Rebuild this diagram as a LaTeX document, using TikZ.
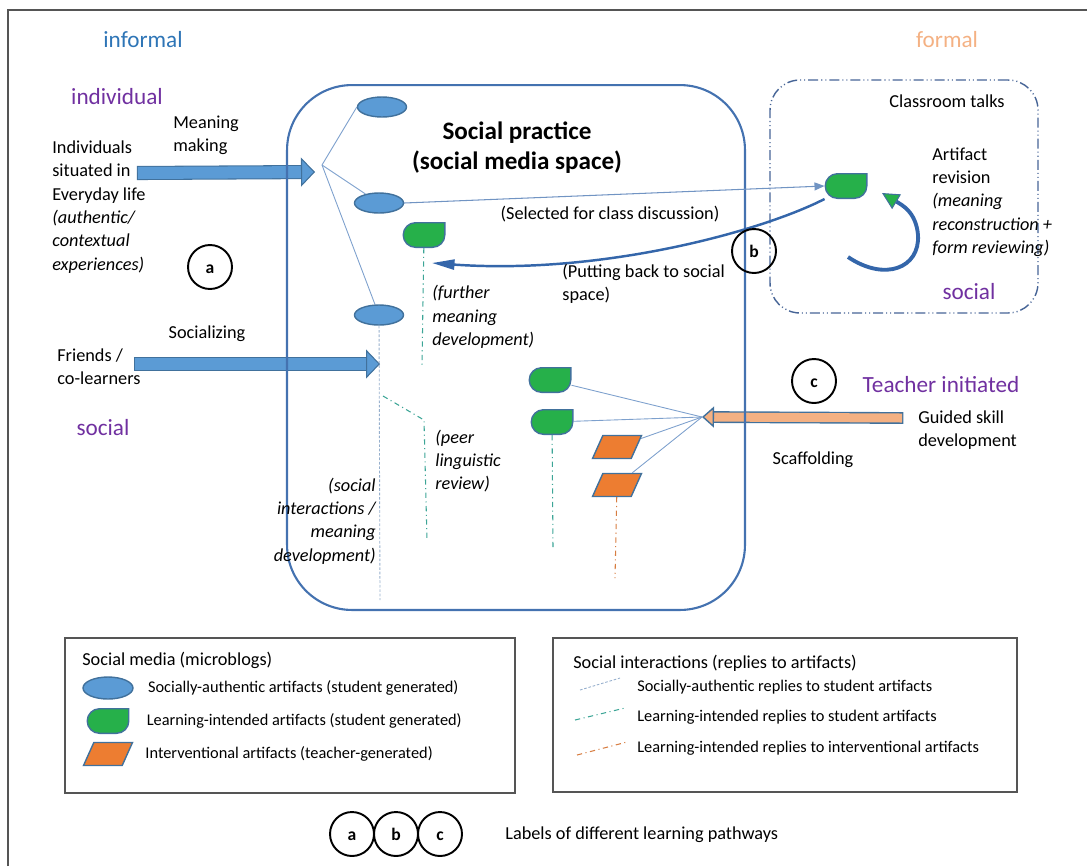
\documentclass[tikz,border=0pt]{standalone}
\usepackage{fontspec}
\setmainfont{Carlito}
\usepackage{tikz}
\usetikzlibrary{shapes.geometric,arrows.meta,positioning}

\definecolor{artblue}{RGB}{91,155,213}
\definecolor{edgeblue}{RGB}{65,113,156}
\definecolor{spaceblue}{RGB}{68,114,176}
\definecolor{artgreen}{RGB}{38,176,74}
\definecolor{artorange}{RGB}{237,125,49}
\definecolor{paleorange}{RGB}{244,177,131}
\definecolor{zoneblue}{RGB}{46,117,182}
\definecolor{zonepurple}{RGB}{112,48,160}
\definecolor{linkblue}{RGB}{125,160,205}
\definecolor{backblue}{RGB}{52,102,170}
\definecolor{replygray}{RGB}{150,175,205}
\definecolor{replyteal}{RGB}{60,165,150}
\definecolor{replyorange}{RGB}{215,125,65}
\definecolor{classline}{RGB}{70,100,150}
\definecolor{boxgray}{RGB}{85,85,85}

\tikzset{
  plain/.style={inner sep=0pt, align=left},
  notes/.style={plain, font=\fontsize{10.4}{13.3}\itshape\selectfont},
  legendtext/.style={plain, font=\fontsize{9.3}{11}\selectfont},
  zonelabel/.style={font=\fontsize{13.2}{15}\selectfont},
  socialart/.style={ellipse, draw=edgeblue, fill=artblue, line width=0.8pt, minimum width=0.98cm, minimum height=0.4cm, inner sep=0pt},
  learnart/.style={minimum width=0.86cm, minimum height=0.52cm, inner sep=0pt, outer sep=0pt,
    path picture={\filldraw[x=1cm, y=1cm, fill=artgreen, draw=edgeblue, line width=0.8pt]
      ([xshift=-0.4pt,yshift=-0.4pt]path picture bounding box.north east)
      -- ([xshift=-0.4pt,yshift=0.26cm]path picture bounding box.south east)
      arc[start angle=0, end angle=-90, radius=0.246cm]
      -- ([xshift=0.26cm,yshift=0.4pt]path picture bounding box.south west)
      arc[start angle=270, end angle=90, radius=0.246cm] -- cycle;}},
  teacherart/.style={trapezium, trapezium left angle=70, trapezium right angle=110, trapezium stretches=true, draw=edgeblue, fill=artorange, line width=0.8pt, minimum width=0.98cm, minimum height=0.46cm, inner sep=1pt},
  pathlabel/.style={circle, draw, line width=1.1pt, minimum size=0.88cm, inner sep=0pt, text height=1.5ex, text depth=0pt, font=\bfseries},
  link/.style={draw=linkblue, line width=0.5pt},
  fatarrow/.style={draw=artblue, line width=0.24cm, -{Triangle[length=0.28cm, width=0.58cm, line width=0.6pt, color=edgeblue, fill=artblue]},
    preaction={draw=edgeblue, line width=0.282cm, arrows=-, shorten >=0.22cm, shorten <=-0.6pt}},
  scaffarrow/.style={draw=paleorange, line width=0.18cm, -{Triangle[length=0.24cm, width=0.42cm, line width=0.8pt, color=edgeblue, fill=paleorange]},
    preaction={draw=edgeblue, line width=0.236cm, arrows=-, shorten >=0.18cm, shorten <=-0.8pt}},
  backarrow/.style={draw=backblue, line width=1.4pt, -{Triangle[length=0.45cm, width=0.2cm]}},
  looparrow/.style={draw=backblue, line width=2.2pt, -{Triangle[length=0.34cm, width=0.34cm, line width=0.6pt, color=edgeblue, fill=artgreen]}},
  replysocial/.style={draw=replygray, line width=0.5pt, dash pattern=on 1.5pt off 1pt},
  replylearn/.style={draw=replyteal, line width=0.6pt, dash pattern=on 3pt off 2pt on 0.6pt off 2pt},
  replyteacher/.style={draw=replyorange, line width=0.6pt, dash pattern=on 3pt off 2pt on 0.6pt off 2pt}
}

\begin{document}
\begin{tikzpicture}[x=0.02cm, y=-0.02cm, font=\fontsize{10.4}{13.3}\selectfont, node distance=0.28cm]
\useasboundingbox (0,0) rectangle (1087,866);
\draw [boxgray, line width=1pt] (8,866) -- (8,10) -- (1087,10);

\node [zonelabel, text=zoneblue] (informal) at (143,40) {informal};
\node [zonelabel, text=paleorange] (formal) at (947,40) {formal};
\node [zonelabel, text=zonepurple] (individual) at (117,97) {individual};
\node [zonelabel, text=zonepurple] (socialleft) at (103,428) {social};

\node [plain, anchor=west] (everyday) at (52,207) {Individuals\\situated in\\Everyday life\\\textit{(authentic/}\\\textit{contextual}\\\textit{experiences)}};
\node [plain, anchor=west] (meaning) at (173,135) {Meaning\\making};
\node [plain, anchor=west] (friends) at (57,367) {Friends /\\co-learners};
\node [plain] (socializing) at (207,334) {Socializing};

\coordinate (fanL) at (322,165);
\coordinate (fanR) at (702,417);
\coordinate (meaningTail) at (138,173);
\coordinate (meaningTip) at (315,172);
\coordinate (socialTail) at (135,364);
\coordinate (socialTip) at (380,364);
\coordinate (guidedTail) at (902,418);
\coordinate (backTip) at (432,263);
\coordinate (loopStart) at (848,257);
\coordinate (loopTip) at (882,193);

\draw [fatarrow] (meaningTail) -- (meaningTip);
\draw [fatarrow] (socialTail) -- (socialTip);
\draw [scaffarrow] (guidedTail) -- (fanR);

\node [draw=spaceblue, line width=1.2pt, rounded corners=1.3cm, minimum width=9.16cm, minimum height=10.5cm] (space) at (516,347.5) {};
\node [font=\fontsize{14.3}{17}\bfseries\selectfont, align=center] (title) at (517,148) {Social practice\\(social media space)};

\node [draw=classline, line width=0.8pt, dash pattern=on 5.7pt off 1.7pt on 0.6pt off 1.7pt on 0.6pt off 1.7pt, rounded corners=0.6cm, minimum width=5.36cm, minimum height=4.66cm] (classroom) at (904,196.5) {};
\node (talks) at (947,101) {Classroom talks};
\node [zonelabel, text=zonepurple] (socialright) at (969,292) {social};
\node [plain, anchor=west] (revision) at (932,202) {Artifact\\revision\\\textit{(meaning}\\\textit{reconstruction +}\\\textit{form reviewing)}};

\node [socialart] (e1) at (382,107) {};
\node [socialart] (e2) at (379,203) {};
\node [socialart] (e3) at (379,315) {};
\node [learnart] (g0) at (846,186) {};
\node [learnart] (g1) at (424,235) {};
\node [learnart] (g2) at (550,380) {};
\node [learnart] (g3) at (552,422) {};
\node [teacherart] (p1) at (617,447) {};
\node [teacherart] (p2) at (617,485) {};

\draw [link] (fanL) -- (e1.west);
\draw [link] (fanL) -- (e2);
\draw [link] (fanL) -- (e3);
\draw [link] (fanR) -- (g2);
\draw [link] (fanR) -- (g3);
\draw [link] (fanR) -- (p1);
\draw [link] (fanR) -- (p2);

\draw [link, draw=backblue!70, line width=0.6pt, -{Triangle[length=0.2cm, width=0.16cm]}] (e2.east) -- (g0.west);
\node (selected) at (610,214) {(Selected for class discussion)};
\draw [backarrow] (g0.south west) .. controls (760,232) and (600,275) .. (backTip);
\node [plain, anchor=west] (puttingback) at (562,284) {(Putting back to social\\space)};
\draw [looparrow] (loopStart) .. controls (885,282) and (920,268) .. (918,235) .. controls (916,212) and (902,205) .. (loopTip);

\coordinate (e3End) at (380,600);
\coordinate (peerFork) at (383,396);
\coordinate (peerBend) at (424,420);
\coordinate (peerEnd) at (427,540);
\coordinate (g1End) at (422,365);
\coordinate (g3End) at (553,548);
\coordinate (p2End) at (615,578);
\draw [replysocial] (e3) -- (e3End);
\draw [replylearn] (peerFork) -- (peerBend) -- (peerEnd);
\draw [replylearn] (g1) -- (g1End);
\draw [replylearn] (g3) -- (g3End);
\draw [replyteacher] (p2) -- (p2End);

\node [notes, anchor=west] (further) at (432,317) {(further\\meaning\\development)};
\node [notes, anchor=west] (peer) at (435,461) {(peer\\linguistic\\review)};
\node [notes, anchor=east, align=right] (interactions) at (376,521) {(social\\interactions /\\meaning\\development)};

\node [zonelabel, text=zonepurple] (teacher) at (941,385) {Teacher initiated};
\node [plain, anchor=west] (guided) at (918,430) {Guided skill\\development};
\node (scaffolding) at (813,460) {Scaffolding};

\node [pathlabel] (a) at (210,267) {a};
\node [pathlabel] (b) at (754,251) {b};
\node [pathlabel] (c) at (814,381) {c};

\node [draw=boxgray, line width=0.9pt, minimum width=9cm, minimum height=3.1cm] (mediabox) at (290,715.5) {};
\node [plain, anchor=west] (mediatitle) at (82,660) {Social media (microblogs)};
\node [socialart, minimum width=1cm, minimum height=0.44cm] (keysocial) at (108,688) {};
\node [learnart] (keylearn) at (108,721) {};
\node [teacherart] (keyteacher) at (108,754) {};
\node [legendtext, right=of keysocial] (keysocialtext) {Socially-authentic artifacts (student generated)};
\node [legendtext, right=0.34cm of keylearn] (keylearntext) {Learning-intended artifacts (student generated)};
\node [legendtext, right=0.34cm of keyteacher] (keyteachertext) {Interventional artifacts (teacher-generated)};

\node [draw=boxgray, line width=0.9pt, minimum width=9.28cm, minimum height=3.08cm] (replybox) at (785,715) {};
\node [plain, anchor=west] (replytitle) at (573,663) {Social interactions (replies to artifacts)};
\coordinate (keyA1) at (580,690);
\coordinate (keyA2) at (620,678);
\coordinate (keyB1) at (575,720);
\coordinate (keyB2) at (625,708);
\coordinate (keyC1) at (577,755);
\coordinate (keyC2) at (627,742);
\draw [replysocial] (keyA1) -- (keyA2);
\draw [replylearn] (keyB1) -- (keyB2);
\draw [replyteacher] (keyC1) -- (keyC2);
\node [legendtext, anchor=west] (keyAtext) at (637,687) {Socially-authentic replies to student artifacts};
\node [legendtext, anchor=west] (keyBtext) at (637,717) {Learning-intended replies to student artifacts};
\node [legendtext, anchor=west] (keyCtext) at (637,748) {Learning-intended replies to interventional artifacts};

\node [pathlabel] (keya) at (352,834) {a};
\node [pathlabel] (keyb) at (396,834) {b};
\node [pathlabel] (keyc) at (440,834) {c};
\node [plain, anchor=west] (pathways) at (505,835) {Labels of different learning pathways};
\end{tikzpicture}
\end{document}
